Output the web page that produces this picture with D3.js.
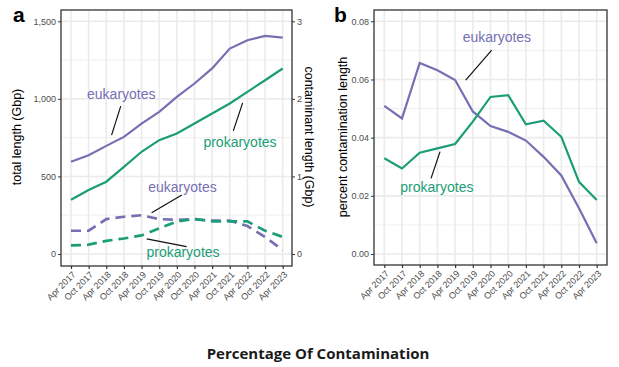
<!DOCTYPE html>
<meta charset="utf-8">
<html>
<head>
<style>
    html, body { margin: 0; padding: 0; background: #fff; }
    svg { display: block; font-family: 'Liberation Sans', Arial, sans-serif; }
    .tick text { fill: #4d4d4d; font-size: 9px; }
    .tick line { stroke: #333; }
    .grid line { stroke: #ebebeb; }
    .caption { font-family: 'Open Sans', sans-serif; font-weight: 700; font-size: 15px; fill: #1a1a1a; }
</style>
<script src="https://d3js.org/d3.v7.min.js"></script>
</head>
<body>
<svg id="chart" width="619" height="367"></svg>
<script>
    // release dates (x axis)
    var dates = ["Apr 2017", "Oct 2017", "Apr 2018", "Oct 2018", "Apr 2019", "Oct 2019", "Apr 2020",
                 "Oct 2020", "Apr 2021", "Oct 2021", "Apr 2022", "Oct 2022", "Apr 2023"];

    // panel a: total length (Gbp), left axis
    var eukTotal = [595, 637, 697, 755, 841, 916, 1013, 1099, 1196, 1324, 1378, 1406, 1395];
    var proTotal = [350, 412, 466, 562, 659, 734, 777, 841, 906, 970, 1045, 1120, 1196];
    // panel a: contaminant length (Gbp), right axis
    var eukContam = [0.30, 0.30, 0.45, 0.48, 0.50, 0.45, 0.44, 0.45, 0.43, 0.43, 0.36, 0.22, 0.05];
    var proContam = [0.11, 0.12, 0.17, 0.20, 0.24, 0.33, 0.42, 0.45, 0.42, 0.42, 0.42, 0.30, 0.22];

    // panel b: percent contamination length
    var eukPct = [0.0509, 0.0466, 0.0657, 0.0632, 0.0598, 0.0490, 0.0440, 0.0420, 0.0390, 0.0334, 0.0270, 0.0157, 0.0037];
    var proPct = [0.0329, 0.0294, 0.0348, 0.0363, 0.0378, 0.0455, 0.0540, 0.0546, 0.0446, 0.0458, 0.0403, 0.0248, 0.0186];

    var leftTicks = [0, 500, 1000, 1500];
    var rightTicks = [0, 1, 2, 3];
    var pctTicks = [0, 0.02, 0.04, 0.06, 0.08];

    var purple = "#7570b3", green = "#1b9e77";

    var svg = d3.select("#chart");

    function panel(box, xr, yScale, minorTicks, majorTicks) {
        var g = svg.append("g");
        var x = d3.scalePoint().domain(d3.range(dates.length)).range(xr);
        // grid
        var grid = g.append("g").attr("class", "grid");
        grid.selectAll(".minor").data(minorTicks).enter().append("line")
            .attr("x1", box.l).attr("x2", box.r)
            .attr("y1", yScale).attr("y2", yScale).style("stroke-width", 0.8);
        grid.selectAll(".major").data(majorTicks).enter().append("line")
            .attr("x1", box.l).attr("x2", box.r)
            .attr("y1", yScale).attr("y2", yScale).style("stroke-width", 1.6);
        grid.selectAll(".vert").data(d3.range(dates.length)).enter().append("line")
            .attr("y1", box.t).attr("y2", box.b)
            .attr("x1", x).attr("x2", x).style("stroke-width", 1.6);
        // x axis
        var xa = g.append("g").attr("transform", "translate(0," + box.b + ")")
            .call(d3.axisBottom(x).tickSize(3).tickFormat(""));
        xa.select(".domain").remove();
        xa.selectAll(".tick line").style("stroke-width", 1.2);
        g.selectAll(".xlab").data(dates).enter().append("text")
            .attr("transform", function (d, i) { return "translate(" + (x(i) + 3) + "," + (box.b + 7) + ") rotate(-45)"; })
            .attr("text-anchor", "end").attr("dy", "0.35em")
            .style("font-size", "9px").style("fill", "#4d4d4d")
            .text(function (d) { return d; });
        return { g: g, x: x };
    }

    function drawLine(p, y, values, color, dash) {
        var line = d3.line().x(function (d, i) { return p.x(i); }).y(function (d) { return y(d); });
        p.g.append("path").datum(values)
            .attr("d", line)
            .style("fill", "none").style("stroke", color)
            .style("stroke-width", dash ? 2.7 : 2.2)
            .style("stroke-dasharray", dash ? "10,6" : null);
    }

    function note(p, y, t, color, lx, ly, tx, ty) {
        p.g.append("line")
            .attr("x1", p.x(0) + (p.x(1) - p.x(0)) * lx[0]).attr("y1", y(ly[0]))
            .attr("x2", p.x(0) + (p.x(1) - p.x(0)) * lx[1]).attr("y2", y(ly[1]))
            .style("stroke", "#111").style("stroke-width", 1.2);
        p.g.append("text")
            .attr("x", p.x(0) + (p.x(1) - p.x(0)) * tx).attr("y", y(ty))
            .attr("text-anchor", "middle")
            .style("font-size", "14px").style("fill", color)
            .text(t);
    }

    // ---- panel a ----
    var boxA = { l: 61, r: 292, t: 10, b: 266 };
    var yA = d3.scaleLinear().domain([0, 1500]).range([254, 21.3]);
    var yA2 = d3.scaleLinear().domain([0, 3]).range([254, 21.3]);
    var pA = panel(boxA, [71, 282.7], yA, [250, 750, 1250], leftTicks);

    drawLine(pA, yA, eukTotal, purple, false);
    drawLine(pA, yA, proTotal, green, false);
    drawLine(pA, yA2, eukContam, purple, true);
    drawLine(pA, yA2, proContam, green, true);

    var la = pA.g.append("g").attr("transform", "translate(" + boxA.l + ",0)")
        .call(d3.axisLeft(yA).tickValues(leftTicks).tickSize(3).tickPadding(2).tickFormat(d3.format(",")));
    la.select(".domain").remove();
    var ra = pA.g.append("g").attr("transform", "translate(" + boxA.r + ",0)")
        .call(d3.axisRight(yA2).tickValues(rightTicks).tickSize(3).tickPadding(2).tickFormat(d3.format("d")));
    ra.select(".domain").remove();

    note(pA, yA, "eukaryotes", purple, [2.82, 2.30], [953, 766], 2.85, 1000);
    note(pA, yA, "prokaryotes", green, [9.73, 9.20], [974, 794], 9.58, 689);
    note(pA, yA, "eukaryotes", purple, [6.28, 4.57], [380, 266], 6.32, 399);
    note(pA, yA, "prokaryotes", green, [4.29, 6.55], [97, 47], 6.35, -19);

    pA.g.append("rect").attr("x", boxA.l).attr("y", boxA.t)
        .attr("width", boxA.r - boxA.l).attr("height", boxA.b - boxA.t)
        .style("fill", "none").style("stroke", "#333").style("stroke-width", 1.3);

    svg.append("text").attr("transform", "translate(21,137) rotate(-90)")
        .attr("text-anchor", "middle").style("font-size", "12.5px").text("total length (Gbp)");
    svg.append("text").attr("transform", "translate(305,137) rotate(90)")
        .attr("text-anchor", "middle").style("font-size", "12.5px").text("contaminant length (Gbp)");

    // ---- panel b ----
    var boxB = { l: 374, r: 607, t: 10, b: 265 };
    var yB = d3.scaleLinear().domain([0, 0.08]).range([254, 21.3]);
    var pB = panel(boxB, [384.3, 596.7], yB, [0.01, 0.03, 0.05, 0.07], pctTicks);

    drawLine(pB, yB, eukPct, purple, false);
    drawLine(pB, yB, proPct, green, false);

    var lb = pB.g.append("g").attr("transform", "translate(" + boxB.l + ",0)")
        .call(d3.axisLeft(yB).tickValues(pctTicks).tickSize(3).tickPadding(2).tickFormat(d3.format(".2f")));
    lb.select(".domain").remove();

    note(pB, yB, "eukaryotes", purple, [6.07, 4.6], [0.0701, 0.0598], 6.36, 0.0729);
    note(pB, yB, "prokaryotes", green, [3.15, 2.64], [0.0352, 0.026], 2.97, 0.0213);

    pB.g.append("rect").attr("x", boxB.l).attr("y", boxB.t)
        .attr("width", boxB.r - boxB.l).attr("height", boxB.b - boxB.t)
        .style("fill", "none").style("stroke", "#333").style("stroke-width", 1.3);

    svg.append("text").attr("transform", "translate(347,137) rotate(-90)")
        .attr("text-anchor", "middle").style("font-size", "12.5px").text("percent contamination length");

    // panel letters and caption
    svg.append("text").attr("x", 13).attr("y", 22).style("font-size", "21px").style("font-weight", "bold").text("a");
    svg.append("text").attr("x", 334).attr("y", 22).style("font-size", "21px").style("font-weight", "bold").text("b");
    svg.append("text").attr("class", "caption").attr("x", 318).attr("y", 359)
        .attr("text-anchor", "middle").text("Percentage Of Contamination");
</script>
</body>
</html>
